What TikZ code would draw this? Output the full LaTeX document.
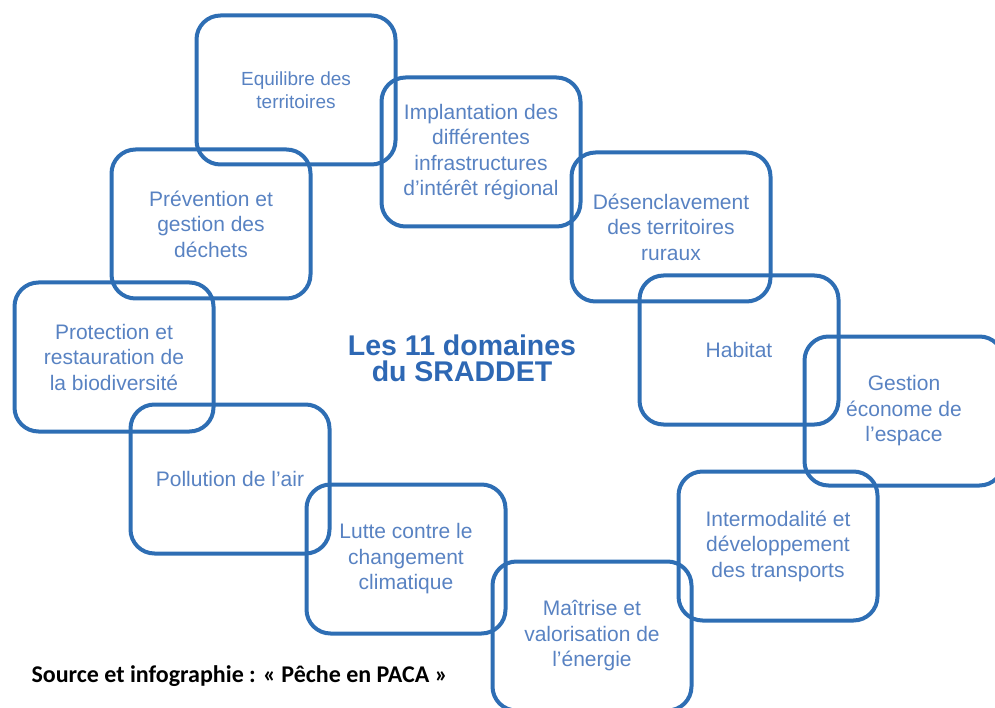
\documentclass[tikz,border=0pt]{standalone}
\usepackage{fontspec}
\setmainfont{Liberation Sans}
\newfontfamily\sourcefont{Carlito}
\usepackage{tikz}

\definecolor{cadre}{RGB}{46,110,180}
\definecolor{texte}{RGB}{88,130,194}
\definecolor{titre}{RGB}{46,104,180}

\tikzset{
	domaine/.style={draw=cadre, line width=4pt, rounded corners=24pt,
		minimum width=199pt, minimum height=149pt, align=center,
		text=texte, font=\fontsize{21}{25.5}\selectfont},
	petit/.style={font=\fontsize{19}{23}\selectfont},
	titre/.style={align=center, text=titre, font=\bfseries\fontsize{28.5}{26}\selectfont},
	source/.style={anchor=west, font=\sourcefont\bfseries\fontsize{24}{26}\selectfont}
}

\begin{document}
\begin{tikzpicture}[x=1pt, y=-1pt]
	\clip (0,0) rectangle (995,708);

	%% The eleven domains -- drawn as a ring of open boxes
	\node at (296,90) [domaine, petit] (equilibre) {Equilibre des\\territoires};
	\node at (481,152) [domaine] (implantation) {Implantation des\\différentes\\infrastructures\\d’intérêt régional};
	\node at (671,227) [domaine] (desenclavement) {Désenclavement\\des territoires\\ruraux};
	\node at (739,350) [domaine] (habitat) {Habitat};
	\node at (904,411) [domaine] (gestion) {Gestion\\économe de\\l’espace};
	\node at (778,546) [domaine] (intermodalite) {Intermodalité et\\développement\\des transports};
	\node at (592,636) [domaine] (maitrise) {Maîtrise et\\valorisation de\\l’énergie};
	\node at (406,559) [domaine] (lutte) {Lutte contre le\\changement\\climatique};
	\node at (230,479) [domaine] (pollution) {Pollution de l’air};
	\node at (114,357) [domaine] (protection) {Protection et\\restauration de\\la biodiversité};
	\node at (211,224) [domaine] (prevention) {Prévention et\\gestion des\\déchets};

	%% Title in the middle of the ring
	\node at (462,358) [titre] (sraddet) {Les 11 domaines\\du SRADDET};

	%% Credit line, bottom left
	\node at (28,676) [source] (credit) {Source et infographie : « Pêche en PACA »};
\end{tikzpicture}
\end{document}
